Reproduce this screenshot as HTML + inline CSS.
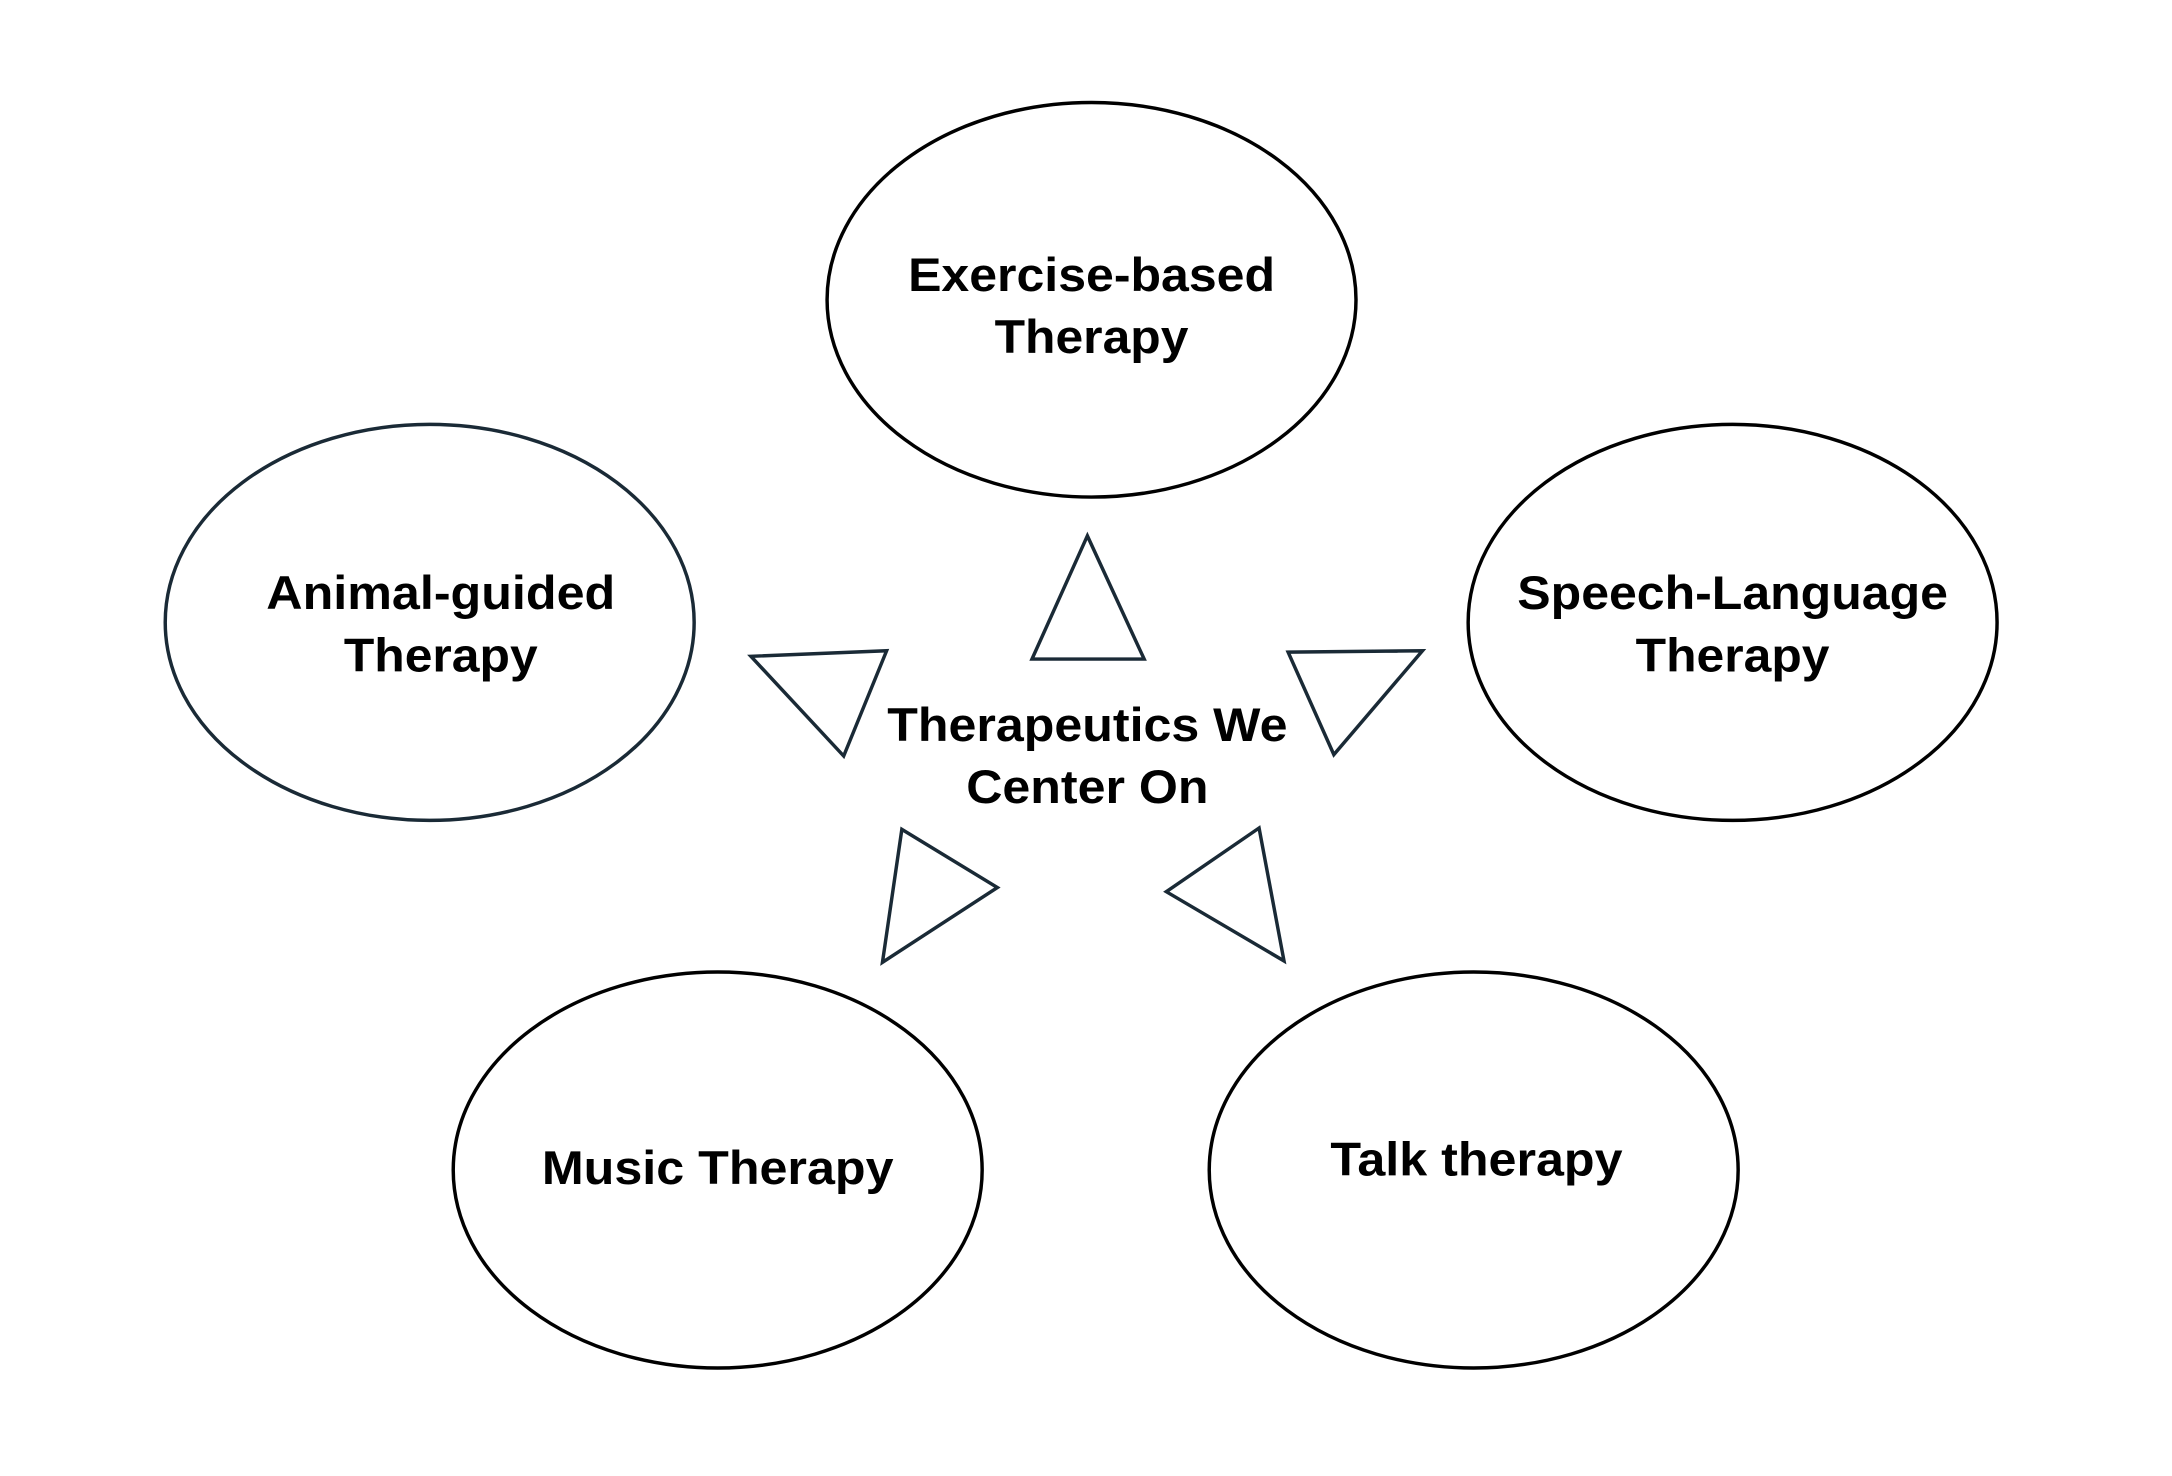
<!DOCTYPE html>
<html><head><meta charset="utf-8"><style>html,body{margin:0;padding:0;background:#fff}svg{display:block}</style></head>
<body>
<svg width="2172" height="1476" viewBox="0 0 1568 1066" xmlns="http://www.w3.org/2000/svg">
<g fill="none" stroke="#000" stroke-width="2.5">
<ellipse cx="788" cy="216.5" rx="191" ry="142.5"/>
<ellipse cx="310" cy="449.5" rx="191" ry="143" stroke="#1a2a36"/>
<ellipse cx="1251" cy="449.5" rx="191" ry="143"/>
<ellipse cx="518" cy="845" rx="191" ry="143"/>
<ellipse cx="1064" cy="845" rx="191" ry="143"/>
</g>
<g fill="none" stroke="#1a2a36" stroke-width="2.5" stroke-linejoin="miter">
<polygon points="785,387 745,476 826,476"/>
<polygon points="542,474 640,470 609,546"/>
<polygon points="930,471 1027,470 963,545"/>
<polygon points="651,599 720,641 637,695"/>
<polygon points="909,598 842,644 927,694"/>
</g>
<g font-family="Liberation Sans, Arial, sans-serif" font-weight="bold" font-size="34" text-anchor="middle" fill="#000" lengthAdjust="spacingAndGlyphs">
<text x="788" y="210" textLength="265" lengthAdjust="spacingAndGlyphs">Exercise-based</text>
<text x="788" y="255" textLength="140" lengthAdjust="spacingAndGlyphs">Therapy</text>
<text x="318" y="440" textLength="252" lengthAdjust="spacingAndGlyphs">Animal-guided</text>
<text x="318" y="485" textLength="140" lengthAdjust="spacingAndGlyphs">Therapy</text>
<text x="1251" y="440" textLength="311" lengthAdjust="spacingAndGlyphs">Speech-Language</text>
<text x="1251" y="485" textLength="140" lengthAdjust="spacingAndGlyphs">Therapy</text>
<text x="785" y="535" textLength="289" lengthAdjust="spacingAndGlyphs">Therapeutics We</text>
<text x="785" y="580" textLength="175" lengthAdjust="spacingAndGlyphs">Center On</text>
<text x="518" y="855" textLength="254" lengthAdjust="spacingAndGlyphs">Music Therapy</text>
<text x="1066" y="849" textLength="211" lengthAdjust="spacingAndGlyphs">Talk therapy</text>
</g>
</svg>
</body></html>
